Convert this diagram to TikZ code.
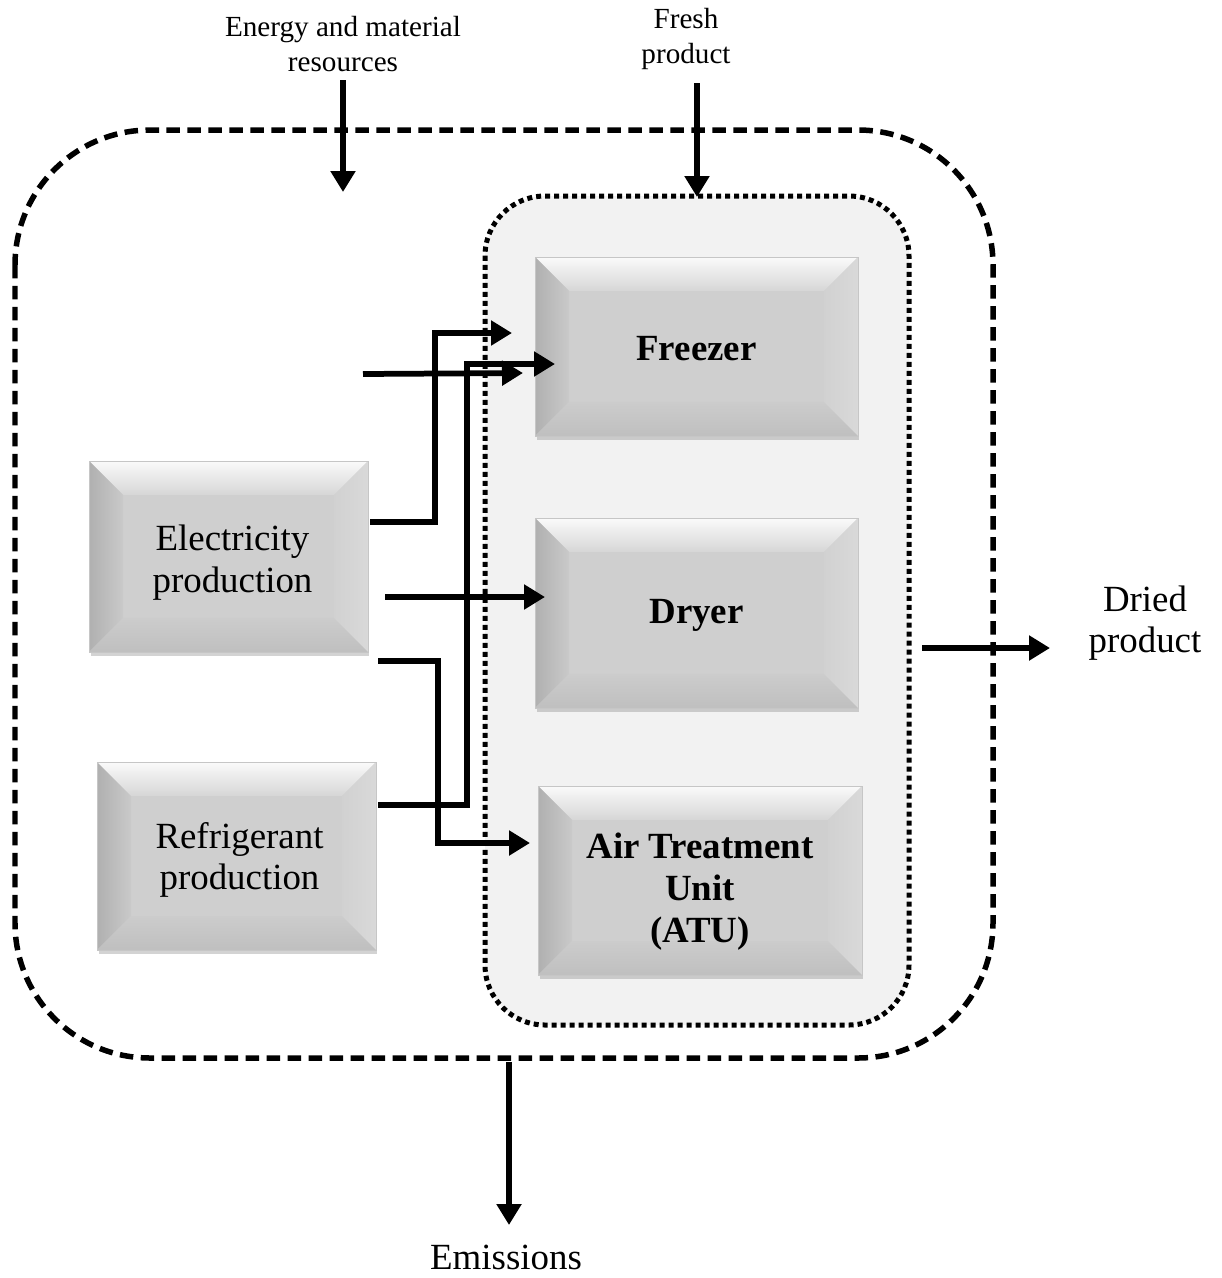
\documentclass[tikz,border=0pt]{standalone}
\usepackage{fontspec}
\setmainfont{Liberation Serif}
\usetikzlibrary{arrows.meta,shadows,calc}
\tikzset{
  bevelbox/.style={
    fill=gray!38, draw=gray!45, line width=0.5pt,
    drop shadow={shadow xshift=0.03cm, shadow yshift=-0.09cm, opacity=0.35, fill=gray},
    inner sep=0pt,
    path picture={
      \path (path picture bounding box.north west) coordinate (bnw)
            (path picture bounding box.south east) coordinate (bse);
      \shade[top color=white!96!gray, bottom color=gray!32]
        (bnw) -- (bnw -| bse) -- ($(bnw -| bse)+(-0.68cm,-0.68cm)$) -- ($(bnw)+(0.68cm,-0.68cm)$) -- cycle;
      \shade[left color=gray!62, right color=gray!42]
        (bnw) -- ($(bnw)+(0.68cm,-0.68cm)$) -- ($(bnw |- bse)+(0.68cm,0.68cm)$) -- (bnw |- bse) -- cycle;
      \shade[left color=gray!36, right color=gray!30]
        (bnw -| bse) -- (bse) -- ($(bse)+(-0.68cm,0.68cm)$) -- ($(bnw -| bse)+(-0.68cm,-0.68cm)$) -- cycle;
      \shade[top color=gray!40, bottom color=gray!50]
        (bnw |- bse) -- (bse) -- ($(bse)+(-0.68cm,0.68cm)$) -- ($(bnw |- bse)+(0.68cm,0.68cm)$) -- cycle;
    }},
  maintext/.style={font=\fontsize{21}{23.5}\selectfont, align=center},
  boldtext/.style={font=\bfseries\fontsize{21}{24}\selectfont, align=center},
  smalltext/.style={font=\fontsize{16.6}{19.9}\selectfont, align=center},
  conn/.style={line width=0.115cm, -{Triangle[length=0.42cm,width=0.48cm]}},
  outerline/.style={line width=0.11cm, dash pattern=on 0.27cm off 0.15cm},
  innerline/.style={line width=0.1cm, dash pattern=on 0.1cm off 0.08cm, fill=black!5},
}
\begin{document}
\begin{tikzpicture}[x=0.02cm, y=-0.02cm]
\path[use as bounding box] (0,0) rectangle (1221,1278);

% system boundaries
\draw[outerline, rounded corners=2.7cm] (15,130) rectangle (993,1058);
\draw[innerline, rounded corners=1.2cm] (485,196) rectangle (909,1025);

% process boxes
\node[bevelbox, minimum width=6.46cm, minimum height=3.58cm,
      label={[boldtext, yshift=-0.04cm]center:Freezer}] (frz) at (696.5,346.5) {};
\node[bevelbox, minimum width=6.46cm, minimum height=3.8cm,
      label={[boldtext, yshift=-0.04cm]center:Dryer}] (dry) at (696.5,613) {};
\node[bevelbox, minimum width=6.48cm, minimum height=3.78cm,
      label={[boldtext, yshift=-0.22cm]center:Air Treatment\\Unit\\ (ATU)}] (atu) at (700,880.5) {};
\node[bevelbox, minimum width=5.58cm, minimum height=3.82cm,
      label={[maintext, yshift=-0.12cm, xshift=0.08cm]center:Electricity\\production}] (ele) at (228.5,556.5) {};
\node[bevelbox, minimum width=5.58cm, minimum height=3.76cm,
      label={[maintext, yshift=-0.08cm, xshift=0.06cm]center:Refrigerant\\production}] (ref) at (236.5,856) {};

% outside labels
\node[smalltext] (en) at (343,44) {Energy and material\\resources};
\node[smalltext] (fp) at (686,39) {Fresh\\product};
\node[maintext] (dp) at (1145,623) {Dried\\product};
\node[maintext] (em) at (506,1257) {Emissions};

% free ends
\coordinate (a0) at (370,522);
\coordinate (a1) at (512,333);
\coordinate (b0) at (363,374);
\coordinate (b1) at (523,373);
\coordinate (c0) at (378,805);
\coordinate (c1) at (555,364);
\coordinate (d0) at (385,597);
\coordinate (d1) at (545,597);
\coordinate (e0) at (378,661);
\coordinate (e1) at (530,843);
\coordinate (en1) at (343,192);
\coordinate (fp1) at (697,197);
\coordinate (em0) at (509,1062);
\coordinate (dp0) at (922,648);

% connectors
\draw[conn] (a0) -| (435,333) -- (a1);
\draw[conn] (b0) -- (b1);
\draw[conn] (c0) -| (467,364) -- (c1);
\draw[conn] (d0) -- (d1);
\draw[conn] (e0) -| (438,843) -- (e1);

\draw[conn] (343,80) -- (en1);
\draw[conn] (697,83) -- (fp1);
\draw[conn] (em0) -- (509,1225);
\draw[conn] (dp0) -- (1050,648);
\end{tikzpicture}
\end{document}
